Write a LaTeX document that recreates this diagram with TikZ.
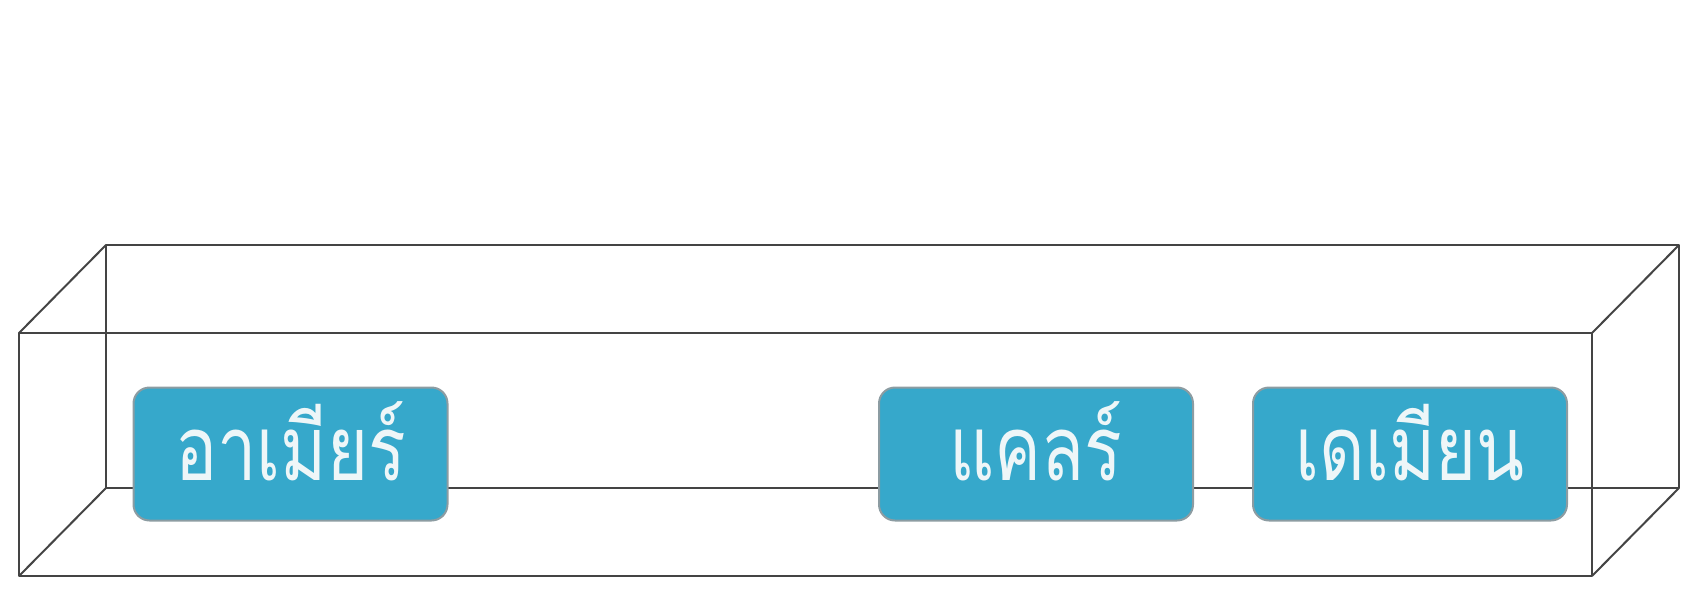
\documentclass[tikz,border=0pt]{standalone}
\usepackage{fontspec}
\newfontfamily\thaifont[Script=Thai]{Loma}
\definecolor{boxblue}{HTML}{36A8CB}
\definecolor{boxedge}{HTML}{8C9CA2}
\definecolor{txtwhite}{HTML}{EEF6F8}
\definecolor{linegray}{HTML}{444444}
\newcommand{\thname}[1]{\scalebox{0.78}[1]{#1}}
\tikzset{
  edge/.style={draw=linegray, line width=2pt, line join=round},
  namebox/.style={rounded corners=16pt, fill=boxblue, draw=boxedge, line width=2pt,
    minimum width=314pt, minimum height=133pt, inner sep=0pt,
    text height=52pt, text depth=0pt,
    text=txtwhite, font=\thaifont\fontsize{90}{92}\selectfont}
}
\begin{document}
\begin{tikzpicture}[x=1pt,y=-1pt]
\useasboundingbox (0,0) rectangle (1703,608);
% back face corners
\coordinate (b1) at (106,245);
\coordinate (b2) at (1679,245);
\coordinate (b3) at (1679,488);
\coordinate (b4) at (106,488);
% front face corners
\coordinate (f1) at (19,333);
\coordinate (f2) at (1592,333);
\coordinate (f3) at (1592,576);
\coordinate (f4) at (19,576);
\draw[edge] (b1) -- (b2) -- (b3) -- (b4) -- cycle;
\draw[edge] (f1) -- (b1);
\draw[edge] (f2) -- (b2);
\draw[edge] (f3) -- (b3);
\draw[edge] (f4) -- (b4);
\draw[edge] (f1) -- (f2) -- (f3) -- (f4) -- cycle;
\node[namebox] (n1) at (290.5,454) {\thname{อาเมียร์}};
\node[namebox] (n2) at (1036,454) {\thname{แคลร์}};
\node[namebox] (n3) at (1410,454) {\thname{เดเมียน}};
\end{tikzpicture}
\end{document}
